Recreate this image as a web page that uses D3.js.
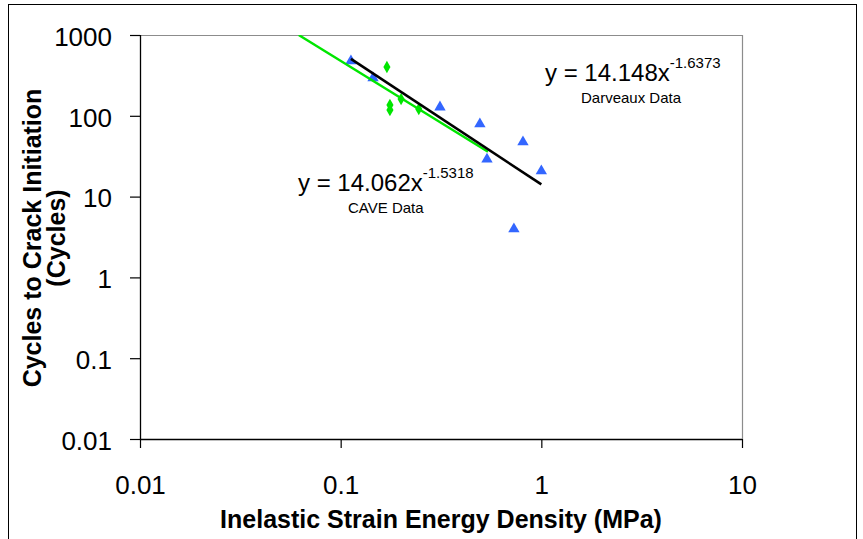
<!DOCTYPE html>
<html><head><meta charset="utf-8">
<script src="https://cdn.jsdelivr.net/npm/d3@7"></script>
<style>body{margin:0;background:#fff}svg{display:block}text{font-family:Arial,"Liberation Sans",sans-serif}</style>
</head><body>
<svg id="c" width="863" height="539"></svg>
<script>
// Data
const darveauxX = [0.1125, 0.145, 0.3125, 0.494, 0.536, 0.73, 0.81, 1.0];
const darveauxY = [477, 294, 128, 79, 29, 3.97, 47.4, 20.7];
const caveX = [0.170, 0.176, 0.176, 0.200, 0.245];
const caveY = [402, 136, 118, 161, 121];
// Trendline end points (power-law fits are straight on log-log axes)
const caveTrendX = [0.0618, 0.542];
const caveTrendY = [1000, 35.9];
const darvTrendX = [0.1125, 1.0];
const darvTrendY = [506, 14.148];
const xTicks = [0.01, 0.1, 1, 10];
const yTicks = [0.01, 0.1, 1, 10, 100, 1000];
const xTickLabels = ["0.01", "0.1", "1", "10"];
const yTickLabels = ["0.01", "0.1", "1", "10", "100", "1000"];

const svg = d3.select("#c");
const L = 140, R = 742, T = 35, B = 439;
const x = d3.scaleLog().domain([0.01, 10]).range([L, R]);
const y = d3.scaleLog().domain([0.01, 1000]).range([B, T]);

// outer frame
svg.append("rect").attr("x", 8.5).attr("y", 4.5).attr("width", 848).attr("height", 545)
  .attr("fill", "none").attr("stroke", "#000").attr("stroke-width", 1);

// plot frame: top & right grey
svg.append("path").attr("d", `M${L},${T+0.5}H${R+0.5}V${B}`).attr("fill", "none").attr("stroke", "#8c8c8c").attr("stroke-width", 1.2);

svg.append("clipPath").attr("id", "pc").append("rect").attr("x", L).attr("y", T).attr("width", R - L).attr("height", B - T);

// axes
const yAxis = d3.axisLeft(y).tickValues(yTicks).tickFormat((d, i) => yTickLabels[i]).tickSize(10).tickPadding(16);
const gy = svg.append("g").attr("transform", `translate(${L},0)`).call(yAxis);
gy.select(".domain").attr("stroke", "#000").attr("stroke-width", 1.3).attr("d", `M0.5,${T}V${B}`);
gy.selectAll(".tick line").attr("stroke", "#000").attr("stroke-width", 1.2);
gy.selectAll(".tick text").attr("font-size", 26).attr("fill", "#000").attr("dy", "0.36em")
  .attr("transform", "translate(-2,1)");

const xAxis = d3.axisBottom(x).tickValues(xTicks).tickFormat((d, i) => xTickLabels[i]).tickSize(9).tickPadding(46);
const gx = svg.append("g").attr("transform", `translate(0,${B})`).call(xAxis);
gx.select(".domain").attr("stroke", "#000").attr("stroke-width", 1.3).attr("d", `M${L},0.5H${R}`);
gx.selectAll(".tick line").attr("stroke", "#000").attr("stroke-width", 1.2);
gx.selectAll(".tick text").attr("font-size", 26).attr("fill", "#000").attr("dy", "0");

// axis titles
svg.append("text").attr("x", 441).attr("y", 528).attr("text-anchor", "middle")
  .attr("font-size", 25).attr("font-weight", "bold").text("Inelastic Strain Energy Density (MPa)");
const yt = svg.append("text").attr("transform", `translate(0,238) rotate(-90)`).attr("text-anchor", "middle")
  .attr("font-size", 25).attr("font-weight", "bold");
yt.append("tspan").attr("x", 0).attr("y", 41).text("Cycles to Crack Initiation");
yt.append("tspan").attr("x", 0).attr("y", 65).text("(Cycles)");

const plot = svg.append("g").attr("clip-path", "url(#pc)");

// markers
const blue = "#3366ff", green = "#00e600";
const tri = d3.symbol().type(d3.symbolTriangle).size(56);
plot.selectAll(".tri").data(darveauxX.map((v, i) => [v, darveauxY[i]])).join("path")
  .attr("d", tri).attr("fill", blue)
  .attr("transform", d => `translate(${x(d[0])},${y(d[1])})`);
const dia = d3.symbol().type(d3.symbolDiamond).size(44);
plot.selectAll(".dia").data(caveX.map((v, i) => [v, caveY[i]])).join("path")
  .attr("d", dia).attr("fill", green)
  .attr("transform", d => `translate(${x(d[0])},${y(d[1])})`);

// trendlines
const line = d3.line().x(d => x(d[0])).y(d => y(d[1]));
plot.append("path").datum(caveTrendX.map((v, i) => [v, caveTrendY[i]])).attr("d", line)
  .attr("fill", "none").attr("stroke", green).attr("stroke-width", 2.4);
plot.append("path").datum(darvTrendX.map((v, i) => [v, darvTrendY[i]])).attr("d", line)
  .attr("fill", "none").attr("stroke", "#000").attr("stroke-width", 2.6);

// equation labels
function eq(xp, yb, coef, exp, name, nameX) {
  const t = svg.append("text").attr("x", xp).attr("y", yb).attr("font-size", 24).attr("fill", "#000");
  t.append("tspan").text("y = " + coef + "x");
  t.append("tspan").attr("dy", -13).attr("font-size", 15).text(exp);
  svg.append("text").attr("x", nameX).attr("y", yb + 22).attr("font-size", 15).attr("fill", "#000").text(name);
}
eq(545, 81, "14.148", "-1.6373", "Darveaux Data", 581);
eq(298, 191, "14.062", "-1.5318", "CAVE Data", 348);
</script>
</body></html>
